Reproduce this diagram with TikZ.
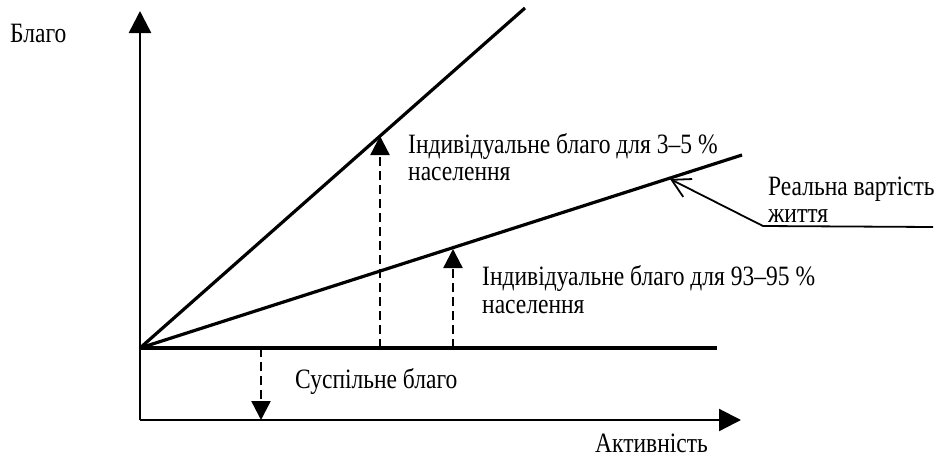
\documentclass[tikz,border=0pt]{standalone}
\usepackage{fontspec}
\setmainfont{Liberation Serif}[FakeStretch=0.84]
\usetikzlibrary{arrows.meta}
\tikzset{
  lbl/.style={anchor=base west, inner sep=0pt, font=\fontsize{28}{28}\selectfont},
  axis/.style={line width=2.6pt, -{Triangle[width=22pt,length=22pt]}},
  thick line/.style={line width=3.2pt},
  dasharrow/.style={line width=2.4pt, dash pattern=on 9pt off 5pt, -{Triangle[width=19pt,length=19pt]}},
  pointer/.style={line width=1.8pt, -{Straight Barb[width=20pt,length=18pt]}}
}
\begin{document}
\begin{tikzpicture}[x=1pt,y=-1pt]
\useasboundingbox (0,0) rectangle (943,459);
% coordinates
\coordinate (O) at (140,348);
\coordinate (ybot) at (140,420);
\coordinate (ytop) at (140,11);
\coordinate (xend) at (741,420);
\coordinate (hend) at (717,348);
\coordinate (steep) at (525,8);
\coordinate (shallow) at (742,155);
\coordinate (a1b) at (380,348);
\coordinate (a1t) at (380,136);
\coordinate (a2b) at (453,348);
\coordinate (a2t) at (453,249);
\coordinate (a3t) at (261,348);
\coordinate (a3b) at (261,420);
\coordinate (pt) at (670,179);
\coordinate (ps) at (763,226);
\coordinate (pe) at (933,227);
% axes
\draw[axis] (ybot) -- (ytop);
\draw[axis, line width=2.2pt] (ybot) -- (xend);
% lines
\draw[thick line] (O) -- (hend);
\draw[thick line] (O) -- (steep);
\draw[thick line] (O) -- (shallow);
% dashed arrows
\draw[dasharrow] (a1b) -- (a1t);
\draw[dasharrow] (a2b) -- (a2t);
\draw[dasharrow] (a3t) -- (a3b);
% pointer
\draw[pointer] (ps) -- (pt);
\draw[line width=1.8pt] (ps) -- (pe);
% labels
\node[lbl] (blago) at (10,42) {Благо};
\node[lbl] (l1a) at (408,153) {Індивідуальне благо для 3–5 \%};
\node[lbl] (l1b) at (408,180) {населення};
\node[lbl] (l2a) at (482,285) {Індивідуальне благо для 93–95 \%};
\node[lbl] (l2b) at (482,313) {населення};
\node[lbl] (r1) at (768,195) {Реальна вартість};
\node[lbl] (r2) at (768,222) {життя};
\node[lbl] (sus) at (295,388) {Суспільне благо};
\node[lbl] (akt) at (595,452) {Активність};
\end{tikzpicture}
\end{document}
